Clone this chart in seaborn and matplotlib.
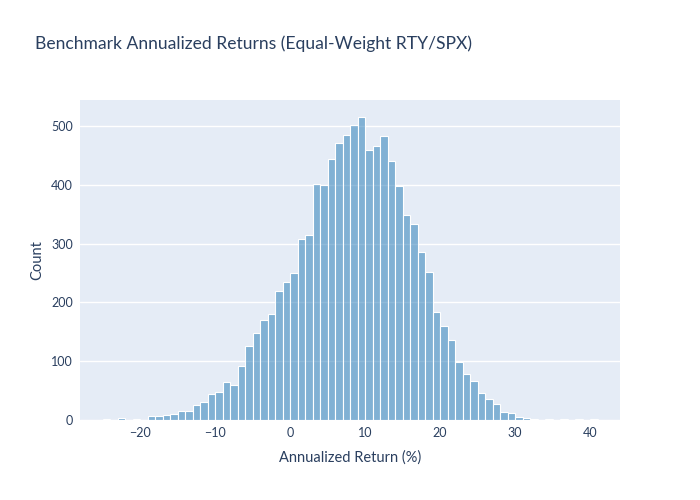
import numpy as np
import pandas as pd
import matplotlib
matplotlib.use("Agg")
import matplotlib.pyplot as plt
import seaborn as sns

# Histogram bins (left edges, 1% wide) and their counts
bin_left = list(range(-28, 43))
counts = [0, 0, 0, 1, 0, 3, 0, 1, 0,          # -28 .. -20
          7, 7, 8, 11, 16, 16, 25, 31, 45, 48,  # -19 .. -10
          65, 59, 92, 126, 148, 170, 181, 220, 234,  # -9 .. -1
          250, 307, 315, 401, 400, 444, 471, 484, 502, 515,  # 0 .. 9
          459, 465, 482, 440, 397, 348, 334, 285, 252, 183,  # 10 .. 19
          160, 136, 99, 79, 67, 46, 36, 27, 14, 12,  # 20 .. 29
          5, 3, 1, 0, 1, 0, 1, 0, 1, 0, 1, 0, 0]  # 30 .. 42

df = pd.DataFrame({"ret": np.array(bin_left) + 0.5, "n": counts})
edges = list(range(-28, 44))

sns.set_theme(style="darkgrid")
plt.rcParams['font.family'] = ['Lato', 'DejaVu Sans']
txt = "#2a3f5f"

fig = plt.figure(figsize=(7, 5), dpi=100)
ax = fig.add_axes([80/700, 80/500, 540/700, 320/500])
ax.set_facecolor("#E5ECF6")

sns.histplot(data=df, x="ret", weights="n", bins=edges, ax=ax,
             color="#1f77b4", alpha=0.5, edgecolor="white", linewidth=0.8)

ax.set_xlim(-28, 44)
ax.set_ylim(0, 544)
ax.set_xticks([-20, -10, 0, 10, 20, 30, 40])
ax.set_xticklabels(["\u221220", "\u221210", "0", "10", "20", "30", "40"])
ax.set_yticks([0, 100, 200, 300, 400, 500])
ax.grid(axis="x", visible=False)
ax.grid(axis="y", color="white", linewidth=1)
for s in ax.spines.values():
    s.set_visible(False)
ax.tick_params(axis="both", colors=txt, labelsize=9, length=0, pad=5)

ax.set_xlabel("Annualized Return (%)", color=txt, fontsize=10.5, labelpad=8)
ax.set_ylabel("Count", color=txt, fontsize=10.5, labelpad=5)
fig.text(35/700, 1 - 44/500, "Benchmark Annualized Returns (Equal-Weight RTY/SPX)",
         color=txt, fontsize=12.6, va="center", ha="left")

fig.savefig("out.png", dpi=100)
